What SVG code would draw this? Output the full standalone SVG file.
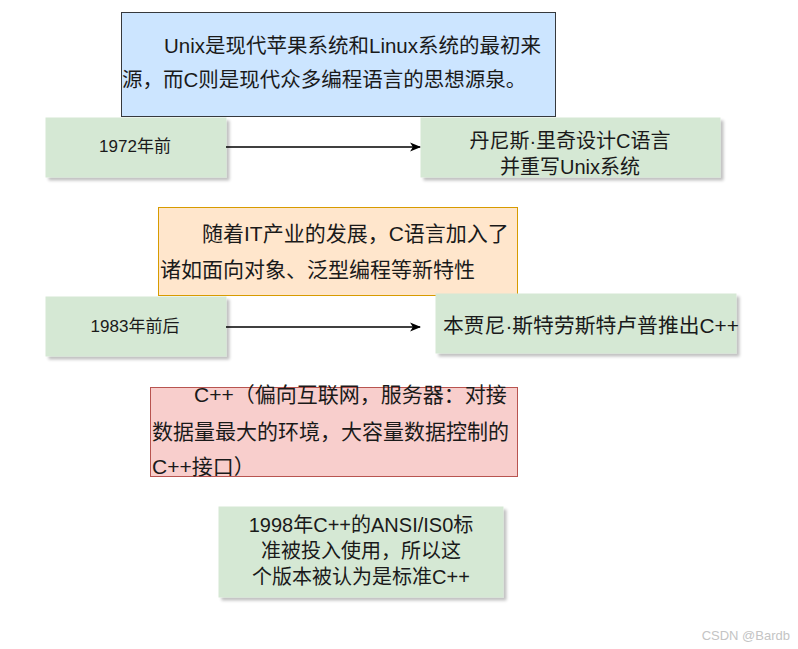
<svg xmlns="http://www.w3.org/2000/svg" width="798" height="649" viewBox="0 0 798 649">
<style>
text{font-family:"Liberation Sans","Noto Sans CJK SC",sans-serif;fill:#1a1a1a}
.g{fill:#d5e8d4;stroke:#d5e8d4;stroke-width:1}
.sm{font-size:17px}
.md{font-size:20px}
.lg{font-size:21px}
.c{text-anchor:middle}
.edge{stroke:#000;stroke-width:1.5;fill:none}
</style>
<defs>
<filter id="sh" x="-10%" y="-10%" width="130%" height="140%">
<feGaussianBlur in="SourceAlpha" stdDeviation="1.5"/>
<feOffset dx="3" dy="3" result="o"/>
<feComponentTransfer><feFuncA type="linear" slope="0.25"/></feComponentTransfer>
<feMerge><feMergeNode/><feMergeNode in="SourceGraphic"/></feMerge>
</filter>
<marker id="ah" viewBox="0 0 10 10" refX="9" refY="5" markerWidth="11" markerHeight="11" markerUnits="userSpaceOnUse" orient="auto">
<path d="M0,1 L10,5 L0,9 L2.5,5 Z" fill="#000"/>
</marker>
</defs>
<rect width="798" height="649" fill="#fff"/>
<g id="note-unix">
<rect x="121.5" y="12.5" width="434" height="104" fill="#cce5ff" stroke="#36393d" stroke-width="1"/>
<text class="lg" x="164" y="53" style="font-size:20.5px">Unix是现代苹果系统和Linux系统的最初来</text>
<text class="lg" x="122" y="87" style="font-size:20.5px">源，而C则是现代众多编程语言的思想源泉。</text>
</g>
<g id="n1972">
<rect class="g" x="46" y="118" width="180" height="59" filter="url(#sh)"/>
<text class="sm c" x="135" y="152">1972年前</text>
</g>
<g id="nRitchie">
<rect class="g" x="421" y="118" width="299" height="59" filter="url(#sh)"/>
<text class="md c" x="570" y="148">丹尼斯·里奇设计C语言</text>
<text class="md c" x="570" y="174">并重写Unix系统</text>
</g>
<g id="note-it">
<rect x="158.5" y="207.5" width="359" height="88" fill="#ffe6cc" stroke="#d79b00" stroke-width="1"/>
<text class="lg" x="202" y="241">随着IT产业的发展，C语言加入了</text>
<text class="lg" x="160" y="277">诸如面向对象、泛型编程等新特性</text>
</g>
<g id="n1983">
<rect class="g" x="46" y="297" width="180" height="59" filter="url(#sh)"/>
<text class="sm c" x="135" y="332">1983年前后</text>
</g>
<g id="nStroustrup">
<rect class="g" x="436" y="294" width="300" height="59" filter="url(#sh)"/>
<text class="md" x="443" y="333" style="font-size:20.8px">本贾尼·斯特劳斯特卢普推出C++</text>
</g>
<g id="note-cpp">
<rect x="150.5" y="387.5" width="367" height="89" fill="#f8cecc" stroke="#b85450" stroke-width="1"/>
<text class="lg" x="194" y="402">C++（偏向互联网，服务器：对接</text>
<text class="lg" x="152" y="439">数据量最大的环境，大容量数据控制的</text>
<text class="lg" x="152" y="474">C++接口）</text>
</g>
<g id="n1998">
<rect class="g" x="219" y="507" width="284" height="90" filter="url(#sh)"/>
<text class="md c" x="361" y="532">1998年C++的ANSI/IS0标</text>
<text class="md c" x="361" y="558">准被投入使用，所以这</text>
<text class="md c" x="361" y="584">个版本被认为是标准C++</text>
</g>
<g id="connectors">
<path class="edge" d="M226,147 L420,147" marker-end="url(#ah)"/>
<path class="edge" d="M226,327 L420,327" marker-end="url(#ah)"/>
</g>
<text x="790" y="640" style="font-size:13px;fill:#c4c4c4;text-anchor:end">CSDN @Bardb</text>
</svg>
